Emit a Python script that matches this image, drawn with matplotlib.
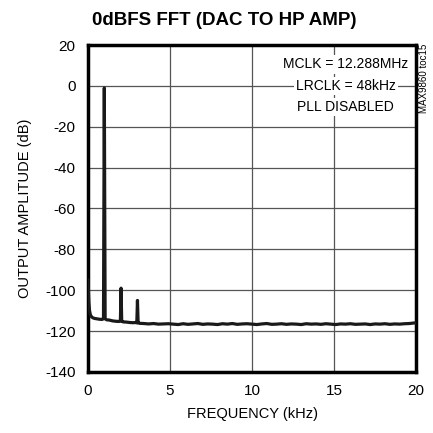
import matplotlib
matplotlib.use("Agg")
import matplotlib.pyplot as plt
from matplotlib import font_manager

fams = {f.name for f in font_manager.fontManager.ttflist}
narrow = "Liberation Sans Narrow" if "Liberation Sans Narrow" in fams else "Liberation Sans"

# FFT trace (kHz, dB)
freq_khz = [0.00, 0.03, 0.06, 0.10, 0.15, 0.22, 0.30, 0.40, 0.55, 0.70, 0.85,
            0.95, 1.00, 1.05, 1.15, 1.30, 1.50, 1.70, 1.90,
            1.98, 2.02, 2.06, 2.15, 2.35, 2.55, 2.75, 2.93,
            2.98, 3.02, 3.06, 3.15, 3.40, 3.70, 4.00, 4.30, 4.60, 4.90,
            5.20, 5.50, 5.80, 6.10, 6.40, 6.70, 7.00, 7.30, 7.60, 7.90,
            8.20, 8.50, 8.80, 9.10, 9.40, 9.70, 10.00, 10.30, 10.60, 10.90,
            11.20, 11.50, 11.80, 12.10, 12.40, 12.70, 13.00, 13.30, 13.60, 13.90,
            14.20, 14.50, 14.80, 15.10, 15.40, 15.70, 16.00, 16.30, 16.60, 16.90,
            17.20, 17.50, 17.80, 18.10, 18.40, 18.70, 19.00, 19.30, 19.60, 19.90, 20.00]
amp_db = [-95.0, -100.0, -106.0, -110.0, -112.0, -113.0, -113.5, -113.8, -114.0, -114.2, -114.3,
          -114.0, -1.0, -114.0, -114.5, -114.6, -115.0, -115.2, -115.3,
          -115.0, -99.0, -115.2, -115.5, -115.6, -115.8, -115.9, -115.8,
          -116.0, -105.0, -116.0, -116.2, -116.3, -116.5, -116.3, -116.6, -116.5, -116.4,
          -116.6, -116.8, -116.4, -116.7, -116.5, -116.3, -116.7, -116.5, -116.6, -116.8,
          -116.4, -116.6, -116.3, -116.7, -116.5, -116.4, -116.6, -116.8, -116.5, -116.3,
          -116.7, -116.6, -116.4, -116.7, -116.5, -116.6, -116.8, -116.4, -116.6, -116.5,
          -116.7, -116.4, -116.6, -116.8, -116.5, -116.6, -116.4, -116.7, -116.6, -116.5,
          -116.8, -116.5, -116.6, -116.4, -116.7, -116.5, -116.6, -116.4, -116.3, -116.0, -116.2]

x_ticks = [0, 5, 10, 15, 20]
y_ticks = [20, 0, -20, -40, -60, -80, -100, -120, -140]
title = "0dBFS FFT (DAC TO HP AMP)"
xlabel = "FREQUENCY (kHz)"
ylabel = "OUTPUT AMPLITUDE (dB)"
note_lines = ["MCLK = 12.288MHz", "LRCLK = 48kHz", "PLL DISABLED"]
side_note = "MAX9860 toc15"

plt.rcParams["font.family"] = [narrow, "DejaVu Sans"]

fig = plt.figure(figsize=(4.33, 4.33), dpi=100)
ax = fig.add_axes([0.203, 0.141, 0.758, 0.755])

ax.plot(freq_khz, amp_db, color="#1a1a1a", linewidth=2.3, zorder=3, solid_joinstyle="round")

ax.set_xlim(0, 20)
ax.set_ylim(-140, 20)
ax.set_xticks(x_ticks)
ax.set_yticks(y_ticks)
ax.set_xticklabels([str(v) for v in x_ticks])
ax.set_yticklabels([str(v) for v in y_ticks])
ax.grid(True, color="#555555", linewidth=0.9)
ax.tick_params(length=0, labelsize=11, pad=9)
for s in ax.spines.values():
    s.set_linewidth(2.5)
    s.set_color("black")

ax.set_xlabel(xlabel, fontsize=10.5, labelpad=6)
ax.set_ylabel(ylabel, fontsize=10.5, labelpad=9)
fig.text(0.517, 0.953, title, ha="center", va="center", fontsize=13.5, fontweight="bold")

for i, line in enumerate(note_lines):
    ax.text(15.7, 10.5 - 10.5 * i, line, ha="center", va="center", fontsize=10,
            bbox=dict(facecolor="white", edgecolor="none", pad=1.5), zorder=4)

fig.text(0.979, 0.82, side_note, rotation=90, ha="center", va="center", fontsize=7)

fig.savefig("out.png", dpi=100)
